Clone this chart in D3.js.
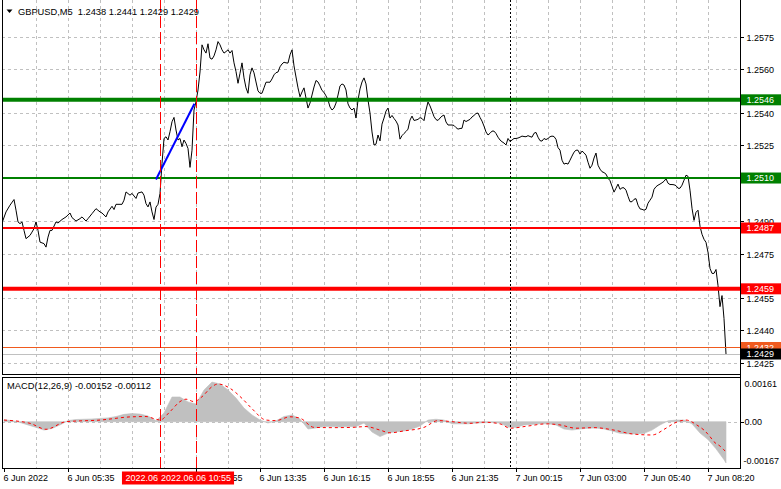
<!DOCTYPE html>
<html><head><meta charset="utf-8">
<script src="https://cdn.jsdelivr.net/npm/d3@7"></script>
<style>
html,body{margin:0;padding:0;background:#fff;}
svg{display:block;font-family:"Liberation Sans",Arial,sans-serif;}
text{white-space:pre;}
</style></head><body>
<svg id="c" width="781" height="489"></svg>
<script>
// ---------- DATA ----------
const symbolTitle = "GBPUSD,M5  1.2438 1.2441 1.2429 1.2429";
const macdTitle = "MACD(12,26,9) -0.00152 -0.00112";

const priceTicks = [1.2575,1.2560,1.2540,1.2525,1.2510,1.2490,1.2475,1.2455,1.2440,1.2425];
const macdTicks = [0.00161, 0.00, -0.00167];
const macdTickLabels = ["0.00161","0.00","-0.00167"];

// time labels (the 08:15 one is fully covered by the event boxes in the chart)
const timeTickBars = [0,32,96,128,160,192,224,256,288,320,352];
const timeTickLabels = ["6 Jun 2022","6 Jun 05:35","6 Jun 10:55","6 Jun 13:35","6 Jun 16:15","6 Jun 18:55","6 Jun 21:35","7 Jun 00:15","7 Jun 03:00","7 Jun 05:40","7 Jun 08:20"];
const gridBars = [16,32,48,64,80,96,112,128,144,160,176,192,208,224,240,256,272,288,304,320,336,352];

// close prices, early part (sparse bar indices)
const bars1 = [-1,1,3,5,6,7,8,9,10,11,13,14,15,16,17,18,20,21,22,23,24,26,27,29,31,33,34,36,38,39,41,42,44,46,48,49,51,52,54,55,56,59,60,61,63,64,66,67,69,70,71,72,73,74,75,76,77,78];
const closes1 = [1.24893,1.24944,1.24975,1.25001,1.24952,1.24898,1.24890,1.24898,1.24859,1.24821,
 1.24836,1.24851,1.24867,1.24898,1.24859,1.24805,1.24798,1.24782,1.24828,1.24859,
 1.24859,1.24898,1.24893,1.24909,1.24921,1.24939,1.24918,1.24902,1.24913,1.24921,
 1.24902,1.24913,1.24936,1.24959,1.24944,1.24939,1.24921,1.24944,1.24970,1.24955,
 1.24979,1.24979,1.24998,1.25036,1.25021,1.25029,1.25006,1.25031,1.25036,1.25021,
 1.24982,1.24967,1.24990,1.24944,1.24909,1.24966,1.24979,1.25029];
// close prices, every bar from bar 79 to bar 361
const closes2Start = 79;
const closes2 = [
 1.25167,1.25282,1.25290,1.25275,1.25313,1.25359,1.25379,1.25321,1.25275,1.25282,
 1.25244,1.25275,1.25259,1.25236,1.25149,1.25228,1.25413,1.25451,1.25505,1.25588,
 1.25713,1.25690,1.25675,1.25718,1.25652,1.25647,1.25662,1.25690,1.25728,1.25713,
 1.25690,1.25675,1.25682,1.25690,1.25675,1.25687,1.25630,1.25590,1.25536,1.25582,
 1.25630,1.25561,1.25515,1.25490,1.25575,1.25607,1.25584,1.25542,1.25501,1.25490,
 1.25490,1.25515,1.25541,1.25541,1.25541,1.25556,1.25575,1.25585,1.25588,1.25612,
 1.25625,1.25633,1.25630,1.25629,1.25667,1.25690,1.25616,1.25565,1.25515,1.25474,
 1.25496,1.25515,1.25468,1.25422,1.25445,1.25482,1.25519,1.25549,1.25542,1.25524,
 1.25503,1.25494,1.25478,1.25459,1.25427,1.25413,1.25422,1.25445,1.25482,1.25524,
 1.25533,1.25528,1.25505,1.25441,1.25422,1.25413,1.25422,1.25376,1.25459,1.25510,
 1.25542,1.25561,1.25533,1.25459,1.25399,1.25312,1.25252,1.25256,1.25298,1.25271,
 1.25348,1.25376,1.25408,1.25422,1.25376,1.25388,1.25374,1.25362,1.25344,1.25279,
 1.25295,1.25305,1.25314,1.25325,1.25367,1.25385,1.25365,1.25367,1.25370,1.25378,
 1.25374,1.25364,1.25413,1.25450,1.25432,1.25408,1.25383,1.25369,1.25365,1.25376,
 1.25385,1.25390,1.25358,1.25344,1.25344,1.25344,1.25342,1.25332,1.25325,1.25328,
 1.25329,1.25367,1.25360,1.25365,1.25370,1.25381,1.25388,1.25397,1.25399,1.25379,
 1.25362,1.25339,1.25312,1.25298,1.25306,1.25316,1.25316,1.25305,1.25288,1.25275,
 1.25267,1.25261,1.25252,1.25282,1.25268,1.25275,1.25282,1.25282,1.25284,1.25288,
 1.25293,1.25291,1.25290,1.25295,1.25291,1.25288,1.25306,1.25310,1.25288,1.25272,
 1.25270,1.25282,1.25277,1.25282,1.25290,1.25293,1.25291,1.25278,1.25240,1.25228,
 1.25182,1.25164,1.25168,1.25164,1.25182,1.25201,1.25219,1.25228,1.25228,1.25210,
 1.25224,1.25216,1.25205,1.25173,1.25145,1.25159,1.25192,1.25215,1.25159,1.25141,
 1.25129,1.25125,1.25118,1.25099,1.25088,1.25062,1.25035,1.25053,1.25072,1.25048,
 1.25055,1.25055,1.25044,1.25016,1.24991,1.24991,1.25002,1.25005,1.24975,1.24958,
 1.24956,1.24952,1.24956,1.24984,1.24998,1.25012,1.25048,1.25060,1.25067,1.25072,
 1.25078,1.25085,1.25097,1.25076,1.25070,1.25070,1.25069,1.25065,1.25053,1.25053,
 1.25067,1.25090,1.25113,1.25108,1.25044,1.24961,1.24905,1.24942,1.24952,1.24878,
 1.24841,1.24818,1.24804,1.24758,1.24684,1.24661,1.24661,1.24679,1.24605,1.24508,
 1.24559,1.24453,1.24290];

// MACD main (histogram) sampled every 4 bars, plus last bar
const histBars = [0,4,8,12,16,20,24,28,32,36,40,44,48,52,56,60,64,68,72,76,80,84,88,92,96,100,104,108,112,116,120,124,128,132,136,140,144,148,152,156,160,164,168,172,176,180,184,188,192,196,200,204,208,212,216,220,224,228,232,236,240,244,248,252,256,260,264,268,272,276,280,284,288,292,296,300,304,308,312,316,320,324,328,332,336,340,344,348,352,356,360,361];
const histValues = [0.00007,0.00004,-0.00003,-0.00012,-0.00021,-0.00031,-0.00025,-0.00012,0.00004,0.00008,
 0.00009,0.00010,0.00012,0.00014,0.00019,0.00027,0.00030,0.00028,0.00021,0.00003,
 0.00032,0.00091,0.00091,0.00073,0.00065,0.00117,0.00146,0.00139,0.00117,0.00087,
 0.00050,0.00025,0.00006,-0.00005,0.00003,0.00019,0.00025,0.00010,-0.00027,-0.00023,
 -0.00018,-0.00018,-0.00020,-0.00018,-0.00018,-0.00005,-0.00038,-0.00055,-0.00042,-0.00037,
 -0.00034,-0.00027,-0.00016,0.00006,0.00009,0.00006,-0.00008,-0.00008,-0.00008,-0.00005,
 -0.00004,-0.00003,-0.00005,-0.00020,-0.00021,-0.00012,-0.00010,-0.00008,-0.00008,-0.00012,
 -0.00027,-0.00031,-0.00027,-0.00024,-0.00023,-0.00027,-0.00034,-0.00043,-0.00045,-0.00045,
 -0.00043,-0.00031,-0.00012,0.00003,0.00006,0.00006,-0.00008,-0.00042,-0.00066,-0.00100,
 -0.00140,-0.00152];
// MACD signal line
const sigBars = [0,13,21,31,48,64,71,76,78,83,88,91,95,99,104,107,113,119,124,131,136,143,148,155,164,174,181,188,193,200,210,217,224,233,240,248,253,262,271,278,286,295,305,314,324,331,335,341,347,350,353,355,358,360,361];
const sigValues = [0.00006,-0.00006,-0.00028,0.00000,0.00006,0.00018,0.00019,0.00009,0.00006,0.00037,
 0.00074,0.00083,0.00074,0.00092,0.00129,0.00139,0.00123,0.00086,0.00048,0.00006,
 0.00004,0.00018,0.00013,-0.00021,-0.00022,-0.00021,-0.00018,-0.00031,-0.00041,-0.00034,
 -0.00021,0.00004,0.00000,-0.00006,-0.00002,-0.00008,-0.00024,-0.00016,-0.00008,-0.00012,
 -0.00024,-0.00022,-0.00031,-0.00045,-0.00049,-0.00024,-0.00006,0.00006,-0.00015,-0.00031,
 -0.00055,-0.00074,-0.00090,-0.00104,-0.00112];

// horizontal levels
const levelPrices = [1.2546, 1.2510, 1.2487, 1.2459];
const levelKinds = ["green","green","red","red"];
const askPrice = 1.2432, bidPrice = 1.2429;
// trend line
const trendBars = [76, 95.2];
const trendPrices = [1.25093, 1.25442];
// event lines (first label is mostly covered by the second one)
const eventBars = [78, 96];
const eventLabels = ["2022.06", "2022.06.06 10:55"];
const separatorBar = 253;

// ---------- DRAW ----------
const svg = d3.select("#c");
const defs = svg.append("defs");
const L = 2, R = 740, T = 0, MB = 374, ST = 377, SB = 468;
const FONT = 9;

const x = d3.scaleLinear().domain([0, 361]).range([4, 726]);
const y = d3.scaleLinear().domain([1.2425, 1.2575]).range([362.7, 36.8]);
const ym = d3.scaleLinear().domain([-0.00167, 0.00161]).range([467.0, 378.0]);

svg.append("rect").attr("width",781).attr("height",489).attr("fill","#fff");

const grid = svg.append("g").attr("stroke","#c0c0c0").attr("stroke-width",1).attr("stroke-dasharray","3,3").attr("shape-rendering","crispEdges");
grid.selectAll("line.h").data(priceTicks).enter().append("line")
  .attr("x1",L).attr("x2",R).attr("y1",d=>Math.round(y(d))+0.5).attr("y2",d=>Math.round(y(d))+0.5);
gridBars.forEach(b=>{
  const xx = Math.round(x(b))+0.5;
  grid.append("line").attr("x1",xx).attr("x2",xx).attr("y1",T).attr("y2",MB);
  grid.append("line").attr("x1",xx).attr("x2",xx).attr("y1",ST).attr("y2",SB);
});
grid.append("line").attr("x1",L).attr("x2",R).attr("y1",Math.round(ym(0))+0.5).attr("y2",Math.round(ym(0))+0.5);

// MACD histogram (dense bars drawn as filled area)
const histData = histBars.map((b,i)=>[b,histValues[i]]);
svg.append("path").datum(histData)
  .attr("d", d3.area().x(d=>x(d[0])).y0(ym(0)).y1(d=>ym(d[1])))
  .attr("fill","#c0c0c0").attr("stroke","#c0c0c0").attr("stroke-width",0.6);

// MACD signal
const sigData = sigBars.map((b,i)=>[b,sigValues[i]]);
svg.append("path").datum(sigData)
  .attr("d", d3.line().x(d=>x(d[0])).y(d=>ym(d[1])).curve(d3.curveMonotoneX))
  .attr("fill","none").attr("stroke","#ff0000").attr("stroke-width",1).attr("stroke-dasharray","3,3");

// price line
const priceData = bars1.map((b,i)=>[b,closes1[i]]).concat(closes2.map((v,i)=>[closes2Start+i, v]));
defs.append("clipPath").attr("id","mainClip").append("rect").attr("x",L+1).attr("y",T).attr("width",R-L-1).attr("height",MB-T);
svg.append("path").datum(priceData).attr("clip-path","url(#mainClip)")
  .attr("d", d3.line().x(d=>x(d[0])).y(d=>y(d[1])))
  .attr("fill","none").attr("stroke","#000").attr("stroke-width",1);

// bid / ask lines
svg.append("line").attr("x1",L).attr("x2",R).attr("y1",Math.round(y(bidPrice))+0.5).attr("y2",Math.round(y(bidPrice))+0.5)
  .attr("stroke","#c0c0c0").attr("stroke-width",1);
svg.append("line").attr("x1",L).attr("x2",R).attr("y1",Math.round(y(askPrice))+0.5).attr("y2",Math.round(y(askPrice))+0.5)
  .attr("stroke","#f05a1e").attr("stroke-width",1);

// level lines
const levelColor = k => k==="green" ? "#008000" : "#ff0000";
const levelWidth = [4, 2, 2, 4];
levelPrices.forEach((p,i)=>{
  svg.append("line").attr("x1",L).attr("x2",R).attr("y1",y(p)).attr("y2",y(p))
    .attr("stroke",levelColor(levelKinds[i])).attr("stroke-width",levelWidth[i]);
});

// trend line
svg.append("line").attr("x1",x(trendBars[0])).attr("y1",y(trendPrices[0]))
  .attr("x2",x(trendBars[1])).attr("y2",y(trendPrices[1]))
  .attr("stroke","#0000ff").attr("stroke-width",2);

// event vertical lines (red dashed) and day separator
eventBars.forEach(b=>{
  const xx = Math.round(x(b))+0.5;
  [[T,MB],[ST,SB]].forEach(([a,c])=>svg.append("line").attr("x1",xx).attr("x2",xx).attr("y1",a).attr("y2",c)
    .attr("stroke","#ff0000").attr("stroke-width",1).attr("stroke-dasharray","12,4"));
});
{
  const xx = Math.round(x(separatorBar))+0.5;
  [[T,MB],[ST,SB]].forEach(([a,c])=>svg.append("line").attr("x1",xx).attr("x2",xx).attr("y1",a).attr("y2",c)
    .attr("stroke","#000").attr("stroke-width",1).attr("stroke-dasharray","2,2"));
}

// frames
const fr = svg.append("g").attr("stroke","#000").attr("stroke-width",1).attr("fill","none").attr("shape-rendering","crispEdges");
fr.append("line").attr("x1",L+0.5).attr("x2",L+0.5).attr("y1",T).attr("y2",MB+0.5);
fr.append("line").attr("x1",L).attr("x2",R+0.5).attr("y1",MB+0.5).attr("y2",MB+0.5);
fr.append("rect").attr("x",L+0.5).attr("y",ST+0.5).attr("width",R-L).attr("height",SB-ST);
fr.append("line").attr("x1",R+0.5).attr("x2",R+0.5).attr("y1",T).attr("y2",SB+0.5);

// right axis price labels
const axR = svg.append("g").attr("font-size",FONT).attr("fill","#000");
priceTicks.forEach(p=>{
  const yy = Math.round(y(p))+0.5;
  axR.append("line").attr("x1",R).attr("x2",R+4).attr("y1",yy).attr("y2",yy).attr("stroke","#000").attr("shape-rendering","crispEdges");
  axR.append("text").attr("x",R+6.5).attr("y",yy+3.3).text(p.toFixed(4));
});
macdTicks.forEach((v,i)=>{
  const yy = ym(v);
  const ty = i===0 ? yy+6 : (i===2 ? yy-6 : yy);
  if (i===1) axR.append("line").attr("x1",R).attr("x2",R+4).attr("y1",Math.round(yy)+0.5).attr("y2",Math.round(yy)+0.5).attr("stroke","#000");
  axR.append("text").attr("x", i===2 ? R+3.5 : R+4.5).attr("y",ty+3.3).text(macdTickLabels[i]);
});

// level / price labels on the axis
function priceBox(p, fill, txt){
  const yy = y(p);
  svg.append("rect").attr("x",R+1).attr("y",yy-5.5).attr("width",781-R-1).attr("height",11).attr("fill",fill);
  svg.append("text").attr("x",R+6.5).attr("y",yy+3.3).attr("font-size",FONT).attr("fill","#fff").text(txt);
}
levelPrices.forEach((p,i)=>priceBox(p, levelColor(levelKinds[i]), p.toFixed(4)));
priceBox(askPrice, "#f05a1e", askPrice.toFixed(4));
priceBox(bidPrice, "#000", bidPrice.toFixed(4));

// event label boxes geometry
const measure = svg.append("text").attr("font-size",FONT).attr("visibility","hidden");
measure.text(eventLabels[1]);
const w2 = measure.node().getComputedTextLength()+6;
measure.remove();
const box2 = {x0: x(eventBars[1])-w2/2, x1: x(eventBars[1])+w2/2};
const box1 = {x0: x(eventBars[0])-w2/2, x1: box2.x0};

// bottom time axis
defs.append("clipPath").attr("id","timeClip").append("path")
  .attr("d",`M0,468H${box1.x0}V489H0Z M${box2.x1},468H781V489H${box2.x1}Z`);
const axB = svg.append("g").attr("font-size",FONT).attr("fill","#000");
timeTickBars.forEach((b,i)=>{
  const xx = Math.round(x(b))+0.5;
  axB.append("line").attr("x1",xx).attr("x2",xx).attr("y1",SB).attr("y2",SB+4).attr("stroke","#000");
  const t = axB.append("text").attr("x",xx-1).attr("y",481).text(timeTickLabels[i]);
  if (xx > box1.x0-2 && xx < box2.x1) t.attr("clip-path","url(#timeClip)");
});
svg.append("rect").attr("x",box1.x0).attr("y",471.5).attr("width",box1.x1-box1.x0).attr("height",13).attr("fill","#ff0000");
svg.append("text").attr("x",box1.x0+3.5).attr("y",481).attr("font-size",FONT).attr("fill","#fff").text(eventLabels[0]);
svg.append("rect").attr("x",box2.x0).attr("y",471.5).attr("width",w2).attr("height",13).attr("fill","#ff0000");
svg.append("text").attr("x",x(eventBars[1])).attr("y",481).attr("font-size",FONT).attr("text-anchor","middle").attr("fill","#fff").text(eventLabels[1]);

// titles
svg.append("path").attr("d","M6.5,9.5 L12.5,9.5 L9.5,13 Z").attr("fill","#000");
svg.append("text").attr("x",18).attr("y",15).attr("font-size",9.3).attr("fill","#000")
  .attr("textLength",181).attr("lengthAdjust","spacing").text(symbolTitle);
svg.append("text").attr("x",7).attr("y",389).attr("font-size",9.3).attr("fill","#000")
  .attr("textLength",144).attr("lengthAdjust","spacing").text(macdTitle);
</script>
</body></html>
